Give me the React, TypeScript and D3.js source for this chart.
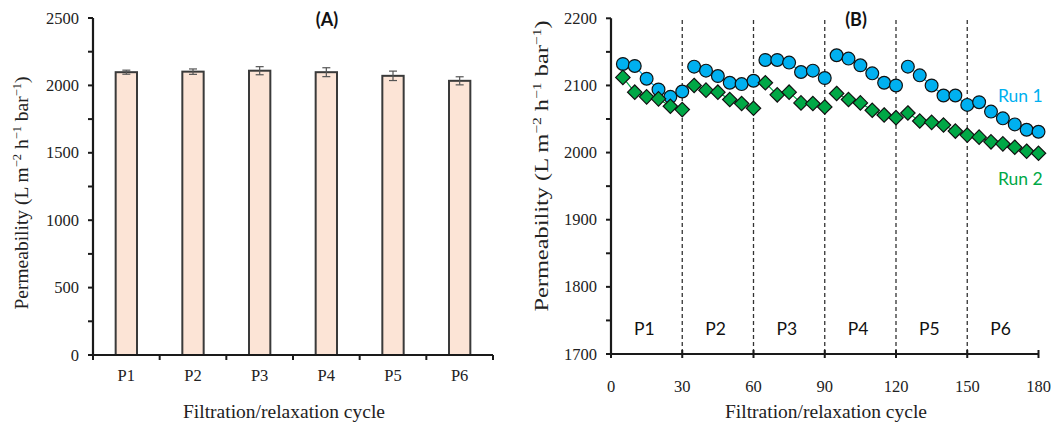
import React from "react";
import * as d3 from "d3";

// ---------- data ----------
const periods = ["P1", "P2", "P3", "P4", "P5", "P6"];
const barMeans = [2098, 2102, 2109, 2098, 2071, 2034];
const barErrors = [15, 20, 30, 33, 35, 30];

const cycles = [
  5, 10, 15, 20, 25, 30,
  35, 40, 45, 50, 55, 60,
  65, 70, 75, 80, 85, 90,
  95, 100, 105, 110, 115, 120,
  125, 130, 135, 140, 145, 150,
  155, 160, 165, 170, 175, 180,
];
const run1 = [
  2132, 2129, 2110, 2094, 2083, 2091,
  2128, 2122, 2114, 2104, 2102, 2107,
  2138, 2138, 2134, 2120, 2122, 2111,
  2145, 2140, 2130, 2118, 2104, 2100,
  2128, 2115, 2100, 2085, 2085, 2071,
  2075, 2061, 2051, 2042, 2034, 2031,
];
const run2 = [
  2112, 2090, 2083, 2080, 2069, 2064,
  2100, 2093, 2090, 2079, 2073, 2066,
  2104, 2086, 2090, 2074, 2073, 2068,
  2088, 2079, 2074, 2063, 2056, 2052,
  2059, 2047, 2045, 2041, 2032, 2026,
  2023, 2016, 2013, 2008, 2002, 1999,
];
const periodBoundaries = [30, 60, 90, 120, 150];
const periodStarts = [0, 30, 60, 90, 120, 150];
const yTicksA = [0, 500, 1000, 1500, 2000, 2500];
const yMinorA = [0, 250, 500, 750, 1000, 1250, 1500, 1750, 2000, 2250, 2500];
const yTicksB = [1700, 1800, 1900, 2000, 2100, 2200];
const yMinorB = [1700, 1750, 1800, 1850, 1900, 1950, 2000, 2050, 2100, 2150, 2200];
const xTicksB = [0, 30, 60, 90, 120, 150, 180];

// ---------- styles ----------
const SERIF = "'Liberation Serif', 'Times New Roman', serif";
const SANS = "Lato, 'Open Sans', sans-serif";
const BLUE = "#00B0F0";
const GREEN = "#00A846";
const AXIS = "#1a1a1a";

function YTitle({ x, y, stretch = 1 }: { x: number; y: number; stretch?: number }) {
  return (
    <text
      transform={`translate(${x},${y}) rotate(-90) scale(${stretch},1)`}
      textAnchor="middle"
      fontFamily={SERIF}
      fontSize={19.5}
      fill="#222"
    >
      Permeability (L m
      <tspan dy={-7} fontSize={12.5}>−2</tspan>
      <tspan dy={7}> h</tspan>
      <tspan dy={-7} fontSize={12.5}>−1</tspan>
      <tspan dy={7}> bar</tspan>
      <tspan dy={-7} fontSize={12.5}>−1</tspan>
      <tspan dy={7}>)</tspan>
    </text>
  );
}

function diamondPath(r: number) {
  const p = d3.path();
  p.moveTo(0, -r);
  p.lineTo(r, 0);
  p.lineTo(0, r);
  p.lineTo(-r, 0);
  p.closePath();
  return p.toString();
}

function PanelA() {
  const x = d3.scaleBand<string>().domain(periods).range([93, 493]).paddingInner(0).paddingOuter(0);
  const y = d3.scaleLinear().domain([0, 2500]).range([355, 18]);
  const bw = x.bandwidth() * 0.32;
  const boundaries = periods.map((p) => x(p) as number).concat([x.range()[1]]);
  return (
    <g>
      {periods.map((p, i) => {
        const cx = (x(p) as number) + x.bandwidth() / 2;
        const top = y(barMeans[i] + barErrors[i]);
        const bot = y(barMeans[i] - barErrors[i]);
        return (
          <g key={p}>
            <rect
              x={cx - bw / 2}
              y={y(barMeans[i])}
              width={bw}
              height={y(0) - y(barMeans[i])}
              fill="#FCE4D6"
              stroke="#3a3a3a"
              strokeWidth={2}
            />
            <line x1={cx} x2={cx} y1={top} y2={bot} stroke="#555" strokeWidth={1.2} />
            <line x1={cx - 4} x2={cx + 4} y1={top} y2={top} stroke="#555" strokeWidth={1.2} />
            <line x1={cx - 4} x2={cx + 4} y1={bot} y2={bot} stroke="#555" strokeWidth={1.2} />
            <text x={cx} y={381} textAnchor="middle" fontFamily={SERIF} fontSize={16.5} fill="#222">{p}</text>
          </g>
        );
      })}
      <line x1={93} x2={93} y1={y(2500)} y2={y(0)} stroke={AXIS} strokeWidth={2.2} />
      {yMinorA.map((t) => (
        <line key={t} x1={88} x2={93} y1={y(t)} y2={y(t)} stroke={AXIS} strokeWidth={2} />
      ))}
      {yTicksA.map((t) => (
        <text key={t} x={79} y={y(t) + 5.5} textAnchor="end" fontFamily={SERIF} fontSize={16.5} fill="#222">{t}</text>
      ))}
      <line x1={92} x2={x.range()[1]} y1={y(0)} y2={y(0)} stroke={AXIS} strokeWidth={2.2} />
      {boundaries.map((b, i) => (
        <line key={i} x1={b} x2={b} y1={y(0)} y2={y(0) + 5} stroke={AXIS} strokeWidth={2} />
      ))}
      <YTitle x={28} y={193} />
      <text x={284} y={418} textAnchor="middle" fontFamily={SERIF} fontSize={19.5} fill="#222">Filtration/relaxation cycle</text>
      <text x={327} y={26} textAnchor="middle" fontFamily={SANS} fontWeight="bold" fontSize={18} fill="#111">(A)</text>
    </g>
  );
}

function PanelB() {
  const x = d3.scaleLinear().domain([0, 180]).range([611, 1038.5]);
  const y = d3.scaleLinear().domain([1700, 2200]).range([354, 18.3]);
  const pts1 = cycles.map((c, i) => ({ c, v: run1[i] }));
  const pts2 = cycles.map((c, i) => ({ c, v: run2[i] }));
  const line = d3.line<{ c: number; v: number }>().x((d) => x(d.c)).y((d) => y(d.v));
  const groups = (pts: { c: number; v: number }[]) =>
    periodStarts.map((s) => pts.filter((d) => d.c > s && d.c <= s + 30));
  const dPath = diamondPath(7.2);
  return (
    <g>
      {periodBoundaries.map((b) => (
        <line key={b} x1={x(b)} x2={x(b)} y1={20} y2={y(1700)} stroke="#333" strokeWidth={1.3} strokeDasharray="4,3" />
      ))}
      {periods.map((p, i) => (
        <text key={p} x={x(periodStarts[i] + 14)} y={335} textAnchor="middle" fontFamily={SANS} fontSize={17.5} fill="#111">{p}</text>
      ))}
      {groups(pts1).map((g, i) => (
        <path key={"l1" + i} d={line(g) || ""} fill="none" stroke={BLUE} strokeWidth={1.2} />
      ))}
      {groups(pts2).map((g, i) => (
        <path key={"l2" + i} d={line(g) || ""} fill="none" stroke={GREEN} strokeWidth={1.2} />
      ))}
      {pts1.map((d, i) => (
        <circle key={"c" + i} cx={x(d.c)} cy={y(d.v)} r={6.4} fill={BLUE} stroke="#111" strokeWidth={1.2} />
      ))}
      {pts2.map((d, i) => (
        <path key={"d" + i} transform={`translate(${x(d.c)},${y(d.v)})`} d={dPath} fill={GREEN} stroke="#111" strokeWidth={1.2} />
      ))}
      <line x1={611} x2={611} y1={y(2200)} y2={y(1700)} stroke={AXIS} strokeWidth={2.2} />
      {yMinorB.map((t) => (
        <line key={t} x1={606} x2={611} y1={y(t)} y2={y(t)} stroke={AXIS} strokeWidth={2} />
      ))}
      {yTicksB.map((t) => (
        <text key={t} x={597} y={y(t) + 5.5} textAnchor="end" fontFamily={SERIF} fontSize={16.5} fill="#222">{t}</text>
      ))}
      <line x1={610} x2={x(180)} y1={y(1700)} y2={y(1700)} stroke={AXIS} strokeWidth={2.2} />
      {xTicksB.map((t) => (
        <g key={t}>
          <line x1={x(t)} x2={x(t)} y1={y(1700) - 4} y2={y(1700) + 4} stroke={AXIS} strokeWidth={2} />
          <text x={x(t)} y={392} textAnchor="middle" fontFamily={SERIF} fontSize={16.5} fill="#222">{t}</text>
        </g>
      ))}
      <YTitle x={548} y={166} stretch={1.25} />
      <text x={826} y={418} textAnchor="middle" fontFamily={SERIF} fontSize={19.5} fill="#222">Filtration/relaxation cycle</text>
      <text x={856} y={26} textAnchor="middle" fontFamily={SANS} fontWeight="bold" fontSize={18} fill="#111">(B)</text>
      <text x={998} y={102} fontFamily={SANS} fontSize={17.5} fill={BLUE}>Run 1</text>
      <text x={998} y={185} fontFamily={SANS} fontSize={17.5} fill={GREEN}>Run 2</text>
    </g>
  );
}

export default function App() {
  return (
    <svg
      width={1055}
      height={425}
      viewBox="0 0 1055 425"
      style={{ position: "absolute", left: 0, top: 0, display: "block", background: "#fff" }}
    >
      <rect width={1055} height={425} fill="#fff" />
      <PanelA />
      <PanelB />
    </svg>
  );
}
